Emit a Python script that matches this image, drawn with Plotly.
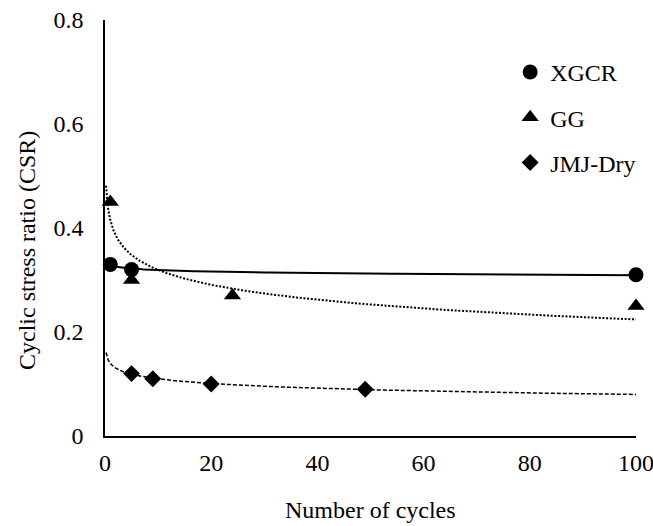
import numpy as np
import plotly.graph_objects as go

# Data
xgcr_x = [1, 5, 100]
xgcr_y = [0.33, 0.32, 0.31]
gg_x = [1, 5, 24, 100]
gg_y = [0.45, 0.30, 0.27, 0.25]
jmj_x = [5, 9, 20, 49]
jmj_y = [0.12, 0.11, 0.10, 0.09]

x_ticks = [0, 20, 40, 60, 80, 100]
y_ticks = [0, 0.2, 0.4, 0.6, 0.8]
y_ticklabels = ["0", "0.2", "0.4", "0.6", "0.8"]

FONT = "Liberation Serif"
FS = 24
F = dict(family=FONT, size=FS, color="black")


def log_trend(xs, ys, x0, x1, n=300):
    b, a = np.polyfit(np.log(xs), ys, 1)
    xx = np.exp(np.linspace(np.log(x0), np.log(x1), n))
    return xx, a + b * np.log(xx)


fig = go.Figure()

# trend lines (logarithmic fits)
tx, ty = log_trend(xgcr_x, xgcr_y, min(xgcr_x), 100)
fig.add_trace(go.Scatter(x=tx, y=ty, mode="lines", line=dict(color="black", width=2),
                         showlegend=False, hoverinfo="skip"))
tx, ty = log_trend(gg_x, gg_y, 0.2, 100)
fig.add_trace(go.Scatter(x=tx, y=ty, mode="lines",
                         line=dict(color="black", width=2, dash="2px,1.7px"),
                         showlegend=False, hoverinfo="skip"))
tx, ty = log_trend(jmj_x, jmj_y, 0.2, 100)
fig.add_trace(go.Scatter(x=tx, y=ty, mode="lines",
                         line=dict(color="black", width=1.5, dash="4px,2px"),
                         showlegend=False, hoverinfo="skip"))

# markers
fig.add_trace(go.Scatter(x=xgcr_x, y=xgcr_y, mode="markers", name="XGCR", legendgroup="a",
                         marker=dict(symbol="circle", size=15, color="black"), cliponaxis=False))
fig.add_trace(go.Scatter(x=gg_x, y=gg_y, mode="markers", name="GG", legendgroup="b",
                         marker=dict(symbol="triangle-up", size=15, color="black"), cliponaxis=False))
fig.add_trace(go.Scatter(x=jmj_x, y=jmj_y, mode="markers", name="JMJ-Dry", legendgroup="c",
                         marker=dict(symbol="diamond", size=13, color="black"), cliponaxis=False))

fig.update_layout(
    width=653, height=526,
    margin=dict(l=105, r=17, t=20, b=90),
    paper_bgcolor="white", plot_bgcolor="white",
    font=F,
    showlegend=True,
    legend=dict(x=0.763, y=0.928, xanchor="left", yanchor="top",
                bgcolor="rgba(0,0,0,0)", font=F,
                traceorder="grouped", tracegroupgap=11),
    xaxis=dict(range=[0, 100], tickvals=x_ticks, showgrid=False, zeroline=False,
               showline=True, linecolor="black", linewidth=1.5, ticks="", automargin=False,
               ticklabelstandoff=4, ticklabeloverflow="allow", tickfont=F),
    yaxis=dict(range=[0, 0.8], tickvals=y_ticks, ticktext=y_ticklabels, showgrid=False,
               zeroline=False, showline=True, linecolor="black", linewidth=1.5, ticks="",
               automargin=False, ticklabelstandoff=15, ticklabeloverflow="allow",
               tickfont=F),
    annotations=[
        dict(text="Number of cycles", xref="paper", yref="paper", x=0.5, y=-(510 - 436) / 416,
             xanchor="center", yanchor="middle", showarrow=False, font=F),
        dict(text="Cyclic stress ratio (CSR)", xref="paper", yref="paper",
             x=(27 - 105) / 531, y=1 - (251 - 20) / 416, xanchor="center", yanchor="middle",
             textangle=-90, showarrow=False, font=F),
    ],
)

fig.write_html("out.html", config={"displayModeBar": False},
               post_script="document.body.style.margin='0';")
